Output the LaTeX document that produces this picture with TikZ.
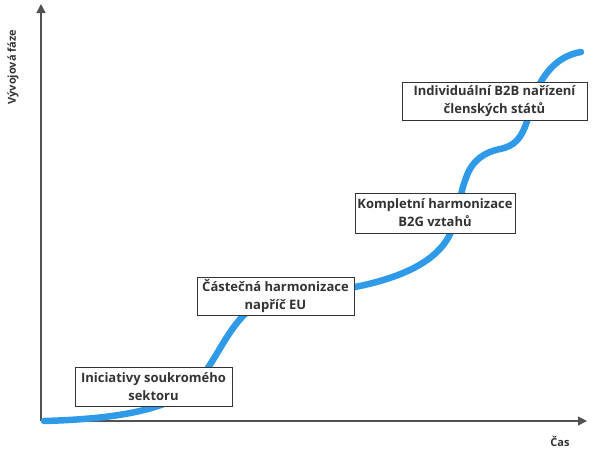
\documentclass[tikz,border=0pt]{standalone}
\usepackage{fontspec}
\setmainfont{Open Sans}
\usetikzlibrary{arrows.meta}
\definecolor{curveblue}{HTML}{2F9BE8}
\definecolor{ink}{HTML}{333333}
\tikzset{
  axis/.style={draw=ink!85, line width=1.2pt, -{Triangle[length=9pt,width=9pt]}},
  phasebox/.style={draw=ink, line width=1pt, fill=white, text=ink, align=center,
    inner sep=0pt, font=\bfseries\fontsize{13}{18}\selectfont},
  axislabel/.style={text=ink, font=\bfseries\fontsize{11}{13}\selectfont},
}
\begin{document}
\begin{tikzpicture}[x=1pt,y=-1pt]
\useasboundingbox (0,0) rectangle (596,451);
\coordinate (O) at (41,421);
\coordinate (ytop) at (41,4);
\coordinate (xend) at (587,421);
\draw[axis] (O) -- (ytop);
\draw[axis] (O) -- (xend);
\node[axislabel, rotate=90] (ylab) at (13,67) {Vývojová fáze};
\node[axislabel] (xlab) at (560,441) {Čas};
% curve
\draw[curveblue, line width=6.5pt, line cap=round]
  (44,421) .. controls (115,419) and (172,410) .. (196,384)
  .. controls (218,358) and (228,326) .. (252,308)
  .. controls (280,290) and (320,293) .. (355,287)
  .. controls (400,278) and (438,262) .. (451,232)
  .. controls (460,212) and (459,195) .. (466,178)
  .. controls (472,160) and (485,152) .. (500,149)
  .. controls (515,146) and (522,138) .. (528,118)
  .. controls (533,95) and (545,58) .. (581,52);
\node[phasebox, minimum width=157pt, minimum height=39pt] (b1) at (153.5,386.5) {Iniciativy soukromého\\sektoru};
\node[phasebox, minimum width=157pt, minimum height=38pt] (b2) at (275.5,296) {Částečná harmonizace\\napříč EU};
\node[phasebox, minimum width=160pt, minimum height=40pt] (b3) at (435,213) {Kompletní harmonizace\\B2G vztahů};
\node[phasebox, minimum width=185pt, minimum height=38pt] (b4) at (494.5,101) {Individuální B2B nařízení\\členských států};
\end{tikzpicture}
\end{document}
